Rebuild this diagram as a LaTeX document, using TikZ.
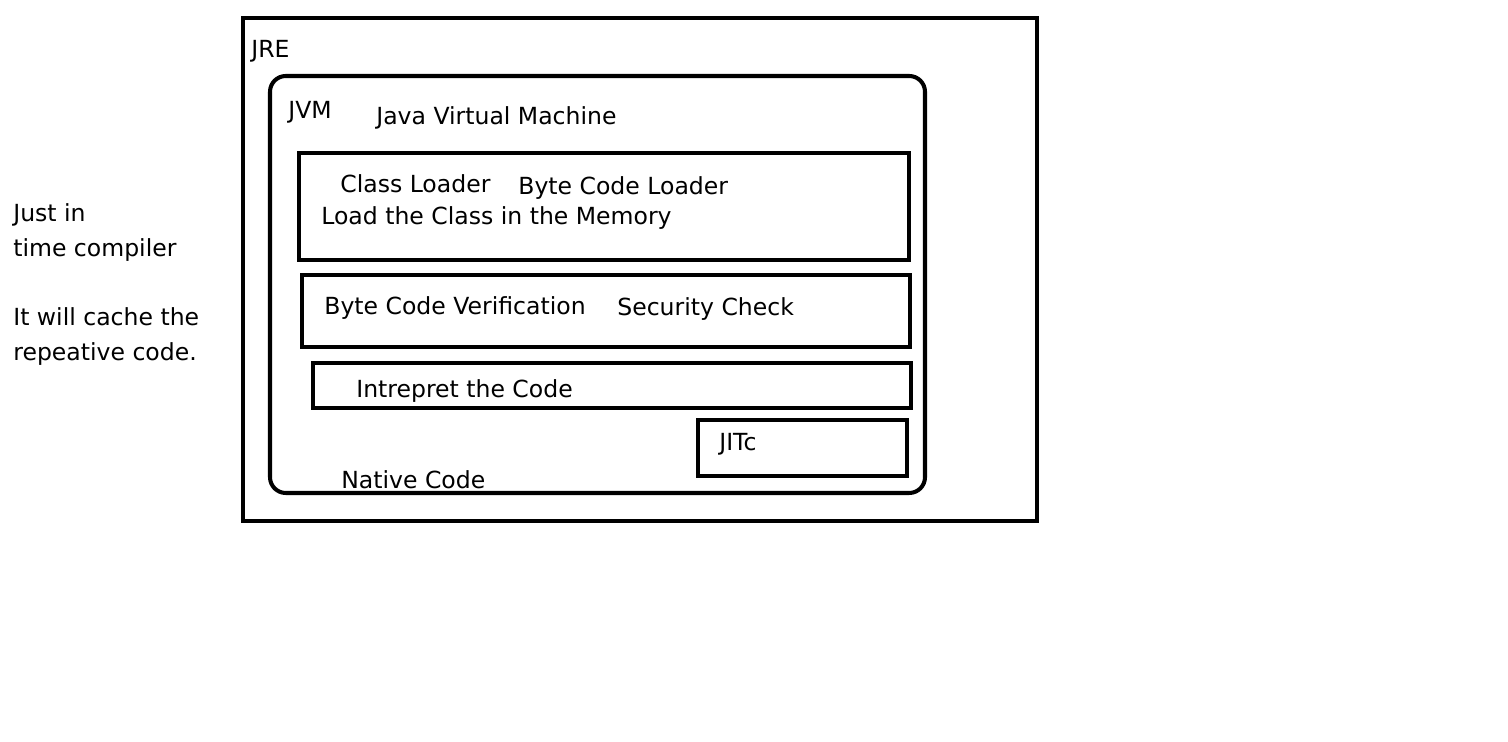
\documentclass[tikz,border=0pt]{standalone}
\usepackage{fontspec}
\setmainfont{DejaVu Sans}
\usetikzlibrary{positioning}

\begin{document}
\begin{tikzpicture}[x=0.02cm,y=-0.02cm,every node/.style={font=\fontsize{13.4}{19.8}\selectfont,anchor=west,inner sep=0pt},
  outer/.style={line width=2.8pt},box/.style={line width=2.3pt}]
\useasboundingbox (0,0) rectangle (1508,742);
\draw[outer] (243,18) rectangle (1037,521);
\draw[box,rounded corners=9pt] (270,76) rectangle (925,493);
\draw[box] (299,153) rectangle (909,260);
\draw[box] (302,275) rectangle (910,347);
\draw[box] (313,363) rectangle (911,408);
\draw[box] (698,420) rectangle (907,476);
\node (jre) at (251,51) {JRE};
\node (jvm) at (288,112) {JVM};
\node (jvmlong) at (376,118) {Java Virtual Machine};
\node (cl) at (340,184) {Class Loader};
\node (bcl) at (518,188) {Byte Code Loader};
\node (load) at (321,218) {Load the Class in the Memory};
\node (bcv) at (324,308) {Byte Code Verification};
\node (sec) at (617,309) {Security Check};
\node (interp) at (356,391) {Intrepret the Code};
\node (jit) at (719,444) {JITc};
\node (native) at (341,480) {Native Code};
\node[align=left,anchor=north west] (note) at (13,203) {Just in\\time compiler\\[19.8pt]It will cache the\\repeative code.};
\end{tikzpicture}
\end{document}
